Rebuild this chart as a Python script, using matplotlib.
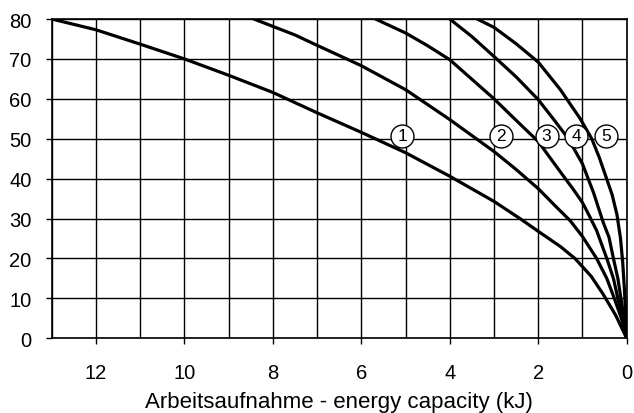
import matplotlib
matplotlib.use("Agg")
import matplotlib.pyplot as plt
from matplotlib.ticker import MultipleLocator

# ---- data ----
c1_x = [13, 12, 11, 10, 9, 8, 7, 6, 5, 4, 3, 2.4, 2, 1.5, 1.17, 0.8, 0.53, 0.25, 0]
c1_y = [80, 77.3, 73.7, 70, 65.9, 61.6, 56.5, 51.6, 46.5, 40.6, 34.3, 29.9, 26.8, 23, 20, 15.5, 11, 5.8, 0]

c2_x = [8.43, 7.5, 7, 6, 5, 4, 3, 2.5, 2, 1.6, 1.28, 1.0, 0.68, 0.45, 0.28, 0.12, 0]
c2_y = [80, 76, 73.4, 68.3, 62.3, 54.8, 46.8, 42.3, 37.5, 33, 29.5, 25.5, 20, 15, 10, 5, 0]

c3_x = [5.68, 5, 4.5, 4, 3, 2.48, 2, 1.54, 1.2, 1.0, 0.85, 0.68, 0.45, 0.3, 0.2, 0.09, 0]
c3_y = [80, 76.5, 73.3, 69.8, 60, 54.4, 49.3, 42.3, 37.2, 34, 30.8, 27, 20, 15, 10, 5, 0]

c4_x = [4.0, 3.5, 3, 2.5, 2, 1.62, 1.32, 1.0, 0.75, 0.53, 0.4, 0.3, 0.2, 0.13, 0.06, 0]
c4_y = [80, 75.6, 70.6, 65.5, 59.8, 54.4, 50, 43.7, 36.5, 29, 25.3, 20, 15, 10, 5, 0]

c5_x = [3.38, 3, 2.5, 2, 1.5, 1.05, 0.79, 0.62, 0.47, 0.33, 0.22, 0.14, 0.09, 0.05, 0]
c5_y = [80, 77.9, 73.8, 69.2, 62.3, 55, 50, 45.3, 40.5, 36, 31, 25, 19, 12, 0]

curve_labels = ["1", "2", "3", "4", "5"]
# annotation anchor positions of the circled labels
label_x = [5.08, 2.84, 1.81, 1.14, 0.47]
label_y = [50.7, 50.7, 50.7, 50.7, 50.7]

x_ticks = [12, 10, 8, 6, 4, 2, 0]
y_ticks = [0, 10, 20, 30, 40, 50, 60, 70, 80]
x_label = "Arbeitsaufnahme - energy capacity (kJ)"

# ---- figure ----
plt.rcParams['font.family'] = ['Liberation Sans', 'DejaVu Sans']
fig = plt.figure(figsize=(6.34, 4.14), dpi=100)
ax = fig.add_axes([51.7 / 634, 1 - 339.3 / 414, 575 / 634, 319.3 / 414])

curves = [(c1_x, c1_y), (c2_x, c2_y), (c3_x, c3_y), (c4_x, c4_y), (c5_x, c5_y)]
for cx, cy in curves:
    ax.plot(cx, cy, color='black', lw=2.3, solid_joinstyle='round',
            solid_capstyle='round', zorder=3, clip_on=True)

ax.set_xlim(13, 0)
ax.set_ylim(0, 80)
ax.set_xticks(x_ticks)
ax.set_xticklabels([str(t) for t in x_ticks])
ax.xaxis.set_minor_locator(MultipleLocator(1))
ax.set_yticks(y_ticks)
ax.set_yticklabels([str(t) for t in y_ticks])

ax.grid(which='both', axis='x', color='black', lw=1.0, zorder=1)
ax.grid(which='major', axis='y', color='black', lw=1.0, zorder=1)
ax.set_axisbelow(True)
for s in ax.spines.values():
    s.set_color('black')
    s.set_linewidth(1.2)

ax.tick_params(axis='x', which='major', direction='out', length=4.5, width=1.0,
               labelsize=14.5, pad=13)
ax.tick_params(axis='x', which='minor', length=0)
ax.tick_params(axis='y', which='major', direction='out', length=4.5, width=1.0,
               labelsize=14.5, pad=10)
ax.set_xlabel(x_label, fontsize=16, labelpad=6.5)

for lx, ly, lab in zip(label_x, label_y, curve_labels):
    ax.plot([lx], [ly], marker='o', ms=16.5, mfc='white', mec='black', mew=1.0,
            zorder=4, linestyle='none')
    ax.text(lx, ly, lab, ha='center', va='center', fontsize=12.5, zorder=5)

fig.savefig("out.png", dpi=100)
